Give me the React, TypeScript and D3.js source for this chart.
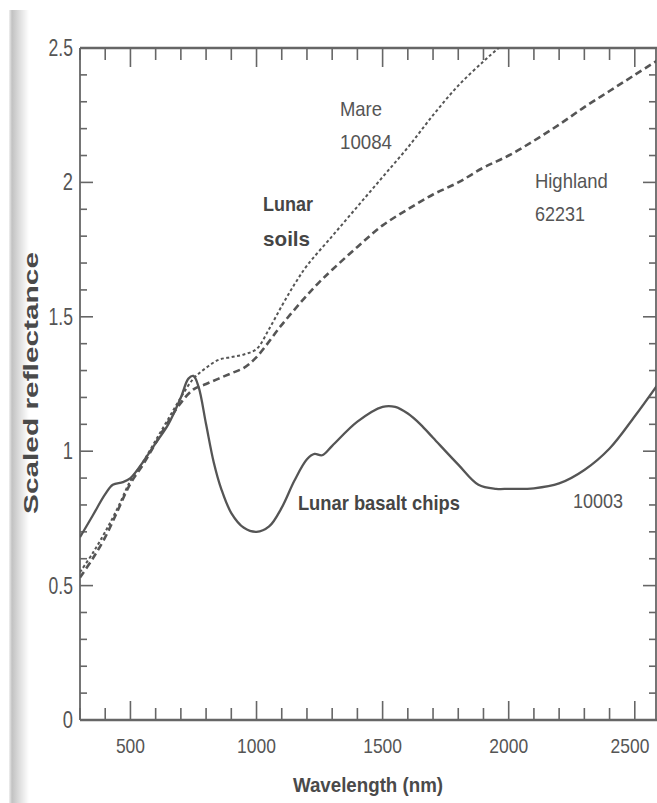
import React from "react";
import * as d3 from "d3";

// ---- data (wavelength nm, scaled reflectance) ----
const basaltWl = [300, 350, 400, 430, 470, 500, 550, 600, 650, 700, 730, 750, 770, 800, 830, 860, 900, 950, 1000, 1050, 1100, 1150, 1200, 1230, 1260, 1300, 1400, 1500, 1550, 1600, 1650, 1700, 1800, 1880, 1950, 2000, 2100, 2200, 2300, 2400, 2500, 2600];
const basaltVal = [0.68, 0.76, 0.84, 0.875, 0.885, 0.9, 0.96, 1.03, 1.1, 1.2, 1.27, 1.28, 1.24, 1.1, 0.96, 0.86, 0.77, 0.715, 0.70, 0.72, 0.79, 0.89, 0.97, 0.99, 0.985, 1.02, 1.11, 1.165, 1.165, 1.14, 1.1, 1.05, 0.95, 0.875, 0.86, 0.86, 0.862, 0.88, 0.93, 1.01, 1.13, 1.26];

const mareWl = [300, 350, 400, 450, 500, 550, 600, 650, 700, 750, 800, 850, 900, 950, 1000, 1050, 1100, 1150, 1200, 1300, 1400, 1500, 1600, 1700, 1800, 1900, 1960, 2000];
const mareVal = [0.55, 0.62, 0.70, 0.79, 0.89, 0.96, 1.04, 1.12, 1.2, 1.27, 1.31, 1.34, 1.35, 1.36, 1.38, 1.455, 1.54, 1.62, 1.69, 1.80, 1.91, 2.02, 2.13, 2.25, 2.36, 2.45, 2.5, 2.53];

const highWl = [300, 350, 400, 450, 500, 550, 600, 650, 700, 750, 800, 850, 900, 950, 1000, 1100, 1200, 1250, 1300, 1400, 1500, 1600, 1700, 1800, 1900, 2000, 2100, 2200, 2300, 2400, 2500, 2600];
const highVal = [0.53, 0.60, 0.68, 0.78, 0.88, 0.95, 1.03, 1.11, 1.18, 1.23, 1.25, 1.27, 1.29, 1.31, 1.35, 1.47, 1.58, 1.63, 1.675, 1.76, 1.84, 1.90, 1.955, 2.0, 2.055, 2.10, 2.155, 2.215, 2.28, 2.34, 2.40, 2.46];

const xTickLabels = ["500", "1000", "1500", "2000", "2500"];
const yTickLabels = ["0", "0.5", "1", "1.5", "2", "2.5"];

const annoText = ["Mare", "10084", "Lunar", "soils", "Highland", "62231", "Lunar basalt chips", "10003"];
const annoWl = [1331, 1331, 1026, 1026, 2104, 2104, 1164, 2255];
const annoVal = [2.247, 2.124, 1.894, 1.763, 1.979, 1.856, 0.781, 0.789];
const annoBold = [false, false, true, true, false, false, true, false];
const annoWidth = [42, 52, 50, 47, 73, 50, 162, 50];

const W = 657;
const H = 803;
const L = 80, R = 660, T = 48, B = 720;

export default function App() {
  const x = d3.scaleLinear().domain([300, 2600]).range([L, R]);
  const y = d3.scaleLinear().domain([0, 2.5]).range([B, T]);
  const line = d3
    .line<[number, number]>()
    .x((d) => x(d[0]))
    .y((d) => y(d[1]))
    .curve(d3.curveCatmullRom.alpha(0.5));

  const zip = (a: number[], b: number[]) => a.map((v, i) => [v, b[i]] as [number, number]);

  const xMinor = d3.range(300, 2601, 100);
  const yMinor = d3.range(0, 2.501, 0.1);
  const axisColor = "#666";
  const textColor = "#555";
  const font = "'Liberation Sans', Arial, Helvetica, sans-serif";
  const RX = 656;

  return (
    <svg width={W} height={H} style={{ position: "absolute", left: 0, top: 0, background: "#fff" }} fontFamily={font}>
      <defs>
        <linearGradient id="strip" x1="0" x2="1" y1="0" y2="0">
          <stop offset="0" stopColor="#f0f0f0" />
          <stop offset="0.15" stopColor="#c2c2c2" />
          <stop offset="0.5" stopColor="#dcdcdc" />
          <stop offset="1" stopColor="#ffffff" />
        </linearGradient>
        <clipPath id="plot">
          <rect x={L} y={T} width={RX - L} height={B - T} />
        </clipPath>
      </defs>
      <rect x={0} y={0} width={W} height={H} fill="#fff" />
      <rect x={9} y={10} width={20} height={H - 10} fill="url(#strip)" />

      {/* axes frame */}
      <line x1={L} x2={W} y1={T} y2={T} stroke={axisColor} strokeWidth={2.5} />
      <line x1={L} x2={W} y1={B} y2={B} stroke={axisColor} strokeWidth={2.5} />
      <line x1={L} x2={L} y1={T} y2={B} stroke={axisColor} strokeWidth={1.8} />
      <line x1={RX} x2={RX} y1={T} y2={B} stroke={axisColor} strokeWidth={1.8} />

      {/* x ticks */}
      {xMinor.map((v) => {
        const major = v % 500 === 0;
        const len = major ? 19 : 12;
        return (
          <g key={"xt" + v}>
            <line x1={x(v)} x2={x(v)} y1={T} y2={T + len} stroke={axisColor} strokeWidth={1.6} />
            <line x1={x(v)} x2={x(v)} y1={B} y2={B - len} stroke={axisColor} strokeWidth={1.6} />
          </g>
        );
      })}
      {/* y ticks */}
      {yMinor.map((v, i) => {
        const major = i % 5 === 0;
        const len = major ? 13 : 7;
        return (
          <g key={"yt" + i}>
            <line x1={L} x2={L + len} y1={y(v)} y2={y(v)} stroke={axisColor} strokeWidth={1.6} />
            <line x1={RX} x2={RX - len} y1={y(v)} y2={y(v)} stroke={axisColor} strokeWidth={1.6} />
          </g>
        );
      })}

      {/* tick labels */}
      {xTickLabels.map((t) => (
        <text key={"xl" + t} x={Math.min(x(+t), 630)} y={753} textAnchor="middle" fontSize={21} fill={textColor}
          textLength={t.length * 9.7} lengthAdjust="spacingAndGlyphs">
          {t}
        </text>
      ))}
      {yTickLabels.map((t) => (
        <text key={"yl" + t} x={73} y={y(+t) + 8} textAnchor="end" fontSize={23} fill={textColor}
          textLength={t.replace(".", "").length * 10.2 + (t.includes(".") ? 4 : 0)} lengthAdjust="spacingAndGlyphs">
          {t}
        </text>
      ))}

      {/* axis titles */}
      <text x={368} y={792} textAnchor="middle" fontSize={20} fontWeight="bold" fill="#4a4a4a"
        textLength={150} lengthAdjust="spacingAndGlyphs">
        Wavelength (nm)
      </text>
      <text transform="translate(38,383) rotate(-90)" textAnchor="middle" fontSize={20} fontWeight="bold" fill="#4a4a4a"
        textLength={262} lengthAdjust="spacingAndGlyphs">
        Scaled reflectance
      </text>

      {/* curves */}
      <g clipPath="url(#plot)" fill="none">
        <path d={line(zip(highWl, highVal)) || ""} stroke="#555" strokeWidth={2.6} strokeDasharray="7 4" />
        <path d={line(zip(mareWl, mareVal)) || ""} stroke="#555" strokeWidth={2} strokeDasharray="3 2.5" />
        <path d={line(zip(basaltWl, basaltVal)) || ""} stroke="#555" strokeWidth={2.3} />
      </g>

      {/* annotations */}
      {annoText.map((t, i) => (
        <text key={"a" + i} x={x(annoWl[i])} y={y(annoVal[i])} fontSize={21}
          fontWeight={annoBold[i] ? "bold" : "normal"} fill={annoBold[i] ? "#454545" : textColor}
          textLength={annoWidth[i]} lengthAdjust="spacingAndGlyphs">
          {t}
        </text>
      ))}
    </svg>
  );
}
